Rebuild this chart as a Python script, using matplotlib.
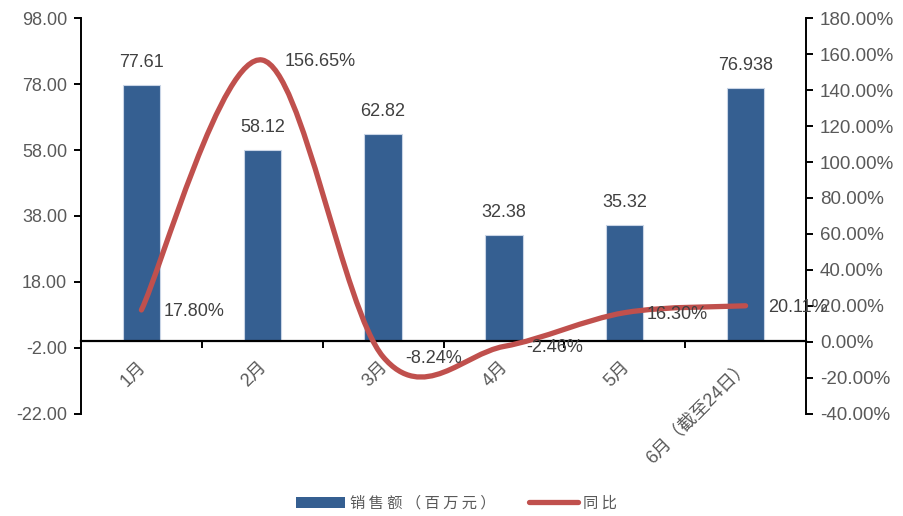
import numpy as np
import matplotlib
matplotlib.use('Agg')
import matplotlib.pyplot as plt
import matplotlib.transforms as mtransforms
from matplotlib.patches import Patch
from matplotlib.lines import Line2D
from matplotlib.path import Path
from matplotlib.patches import PathPatch

plt.rcParams['font.family'] = ['Liberation Sans', 'Noto Sans CJK SC', 'DejaVu Sans']

months = ['1月', '2月', '3月', '4月', '5月', '6月（截至24日）']
sales = [77.61, 58.12, 62.82, 32.38, 35.32, 76.938]
sales_labels = ['77.61', '58.12', '62.82', '32.38', '35.32', '76.938']
yoy = [17.80, 156.65, -8.24, -2.46, 16.30, 20.11]
yoy_labels = ['17.80%', '156.65%', '-8.24%', '-2.46%', '16.30%', '20.11%']

bar_color = '#355F91'
line_color = '#C0504D'
text_color = '#595959'


def smooth_path(xs, ys):
    # excel-like smoothed line: catmull-rom converted to cubic beziers
    pts = np.column_stack([xs, ys]).astype(float)
    n = len(pts)
    verts = [pts[0]]
    codes = [Path.MOVETO]
    for i in range(n - 1):
        p0 = pts[i - 1] if i > 0 else pts[i]
        p1 = pts[i]
        p2 = pts[i + 1]
        p3 = pts[i + 2] if i + 2 < n else pts[i + 1]
        c1 = p1 + (p2 - p0) / 6.0
        c2 = p2 - (p3 - p1) / 6.0
        verts += [c1, c2, p2]
        codes += [Path.CURVE4] * 3
    return Path(verts, codes)


fig = plt.figure(figsize=(9.04, 5.16), dpi=100)
ax = fig.add_axes([0.0896, 0.1977, 0.8020, 0.7674])
ax2 = ax.twinx()

x = np.arange(len(months))
ax.bar(x, sales, width=0.31, color=bar_color, edgecolor='#c9d5e6', linewidth=0.8, zorder=2)
for xi, v, lab in zip(x, sales, sales_labels):
    ax.annotate(lab, (xi, v), xytext=(0, 10), textcoords='offset points',
                ha='center', va='bottom', fontsize=13, color='#404040')

ax.set_xlim(-0.5, len(months) - 0.5)
ax.set_ylim(-22, 98)
ax.set_yticks(np.arange(-22, 99, 20))
ax.set_yticklabels(['%.2f' % t for t in np.arange(-22, 99, 20)])
ax.spines['top'].set_visible(False)
ax.spines['right'].set_visible(False)
ax.spines['bottom'].set_position(('data', 0))
ax.spines['bottom'].set_linewidth(1.6)
ax.spines['left'].set_linewidth(1.4)
ax.set_xticks(x)
ax.set_xticklabels(months, rotation=45, ha='right', va='top', rotation_mode='anchor')
ax.set_xticks(np.arange(0.5, len(months) - 0.5, 1), minor=True)
ax.tick_params(axis='x', which='major', length=0, pad=12, labelsize=13, labelcolor=text_color)
ax.tick_params(axis='x', which='minor', length=5, width=1.4, direction='out')
ax.tick_params(axis='y', length=5, width=1.4, labelsize=13, labelcolor=text_color, pad=5)
shift = mtransforms.ScaledTranslation(-4 / 100, 0, fig.dpi_scale_trans)
for lbl in ax.get_xticklabels():
    lbl.set_transform(lbl.get_transform() + shift)

ax2.set_ylim(-40, 180)
ax2.set_yticks(np.arange(-40, 181, 20))
ax2.set_yticklabels(['%.2f%%' % t for t in np.arange(-40, 181, 20)])
ax2.spines['top'].set_visible(False)
ax2.spines['left'].set_visible(False)
ax2.spines['bottom'].set_visible(False)
ax2.spines['right'].set_linewidth(1.4)
ax2.tick_params(axis='y', length=5, width=1.4, labelsize=13.5, labelcolor=text_color, pad=5)

path = smooth_path(x, yoy)
ax2.add_patch(PathPatch(path, facecolor='none', edgecolor=line_color, lw=3.8,
                        capstyle='round', joinstyle='round', zorder=3))
for xi, v, lab in zip(x, yoy, yoy_labels):
    ax2.annotate(lab, (xi, v), xytext=(16, -1), textcoords='offset points',
                 ha='left', va='center', fontsize=13, color='#404040', zorder=4)

handles = [Patch(facecolor=bar_color, edgecolor='none'),
           Line2D([0], [0], color=line_color, lw=3.8, solid_capstyle='round')]
fig.legend(handles, ['销 售 额 （ 百 万 元 ）', '同 比'], loc='center', bbox_to_anchor=(0.505, 0.025),
           ncol=2, frameon=False, handlelength=3.2, columnspacing=2.2, handletextpad=0.3,
           prop={'family': ['Noto Sans CJK SC', 'DejaVu Sans'], 'size': 11},
           labelcolor=text_color)

fig.savefig('out.png', dpi=100)
